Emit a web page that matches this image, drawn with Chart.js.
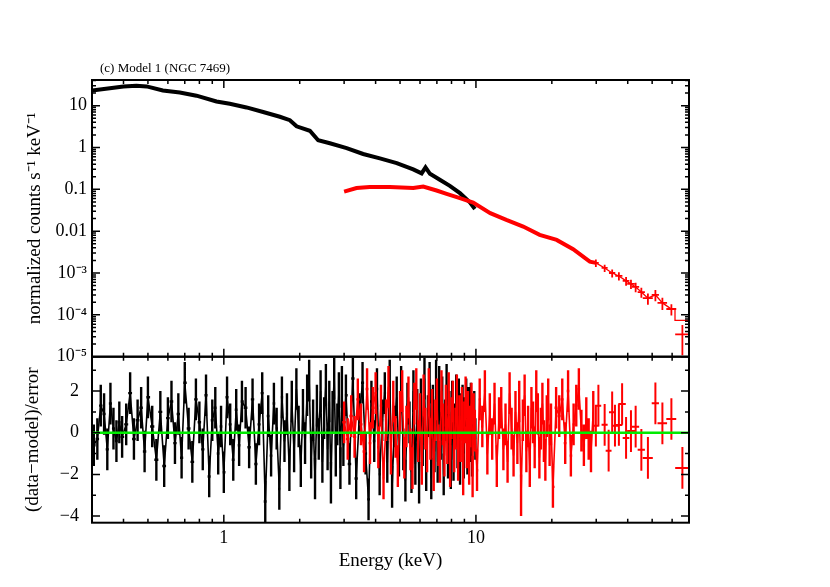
<!DOCTYPE html>
<html>
<head>
<meta charset="utf-8">
<script src="https://cdn.jsdelivr.net/npm/chart.js@4.4.0/dist/chart.umd.min.js"></script>
<style>
  html, body { margin: 0; padding: 0; background: #fff; }
  #wrap { position: relative; width: 830px; height: 587px; }
  canvas { position: absolute; left: 0; top: 0; }
</style>
</head>
<body>
<div id="wrap">
  <canvas id="spec" width="830" height="587"></canvas>
  <canvas id="resid" width="830" height="587"></canvas>
</div>
<script>
const SERIF = "'Liberation Serif','Times New Roman',serif";

// ---- top panel: normalized counts s^-1 keV^-1 vs energy (keV)
const specBlackE = [0.30,0.353,0.40,0.45,0.494,0.573,0.669,0.779,0.935,1.056,1.23,1.432,1.668,1.828,1.943,2.194,2.367,2.634,3.07,3.57,4.16,4.85,5.64,6.09,6.31,6.57,7.19,7.88,8.64,9.46,9.91];
const specBlackV = [23.1,26.1,28.5,29.9,28.8,23.1,20.7,17.3,12.6,11.1,9.06,7.03,5.42,4.48,3.21,2.51,1.49,1.26,0.97,0.70,0.55,0.424,0.30,0.24,0.336,0.235,0.169,0.121,0.081,0.049,0.034];

const specRedE = [3.0,3.36,3.79,4.55,5.64,6.18,6.98,7.65,8.64,9.75,11.4,13.2,15.4,17.9,20.9,24.3,28.3,29.9];
const specRedV = [0.088,0.107,0.113,0.113,0.107,0.117,0.0936,0.078,0.0616,0.048,0.027,0.0186,0.0129,0.00815,0.00619,0.00371,0.00187,0.00175];

// sparse high-energy red bins (centre, half width keV, value, relative error)
const hiRedE   = [29.9,32.4,34.7,36.9,39.4,41.2,43.0,45.3,48.1,51.5,54.9,59.6,65.9];
const hiRedW   = [0.8,0.9,1.0,1.2,1.2,1.4,1.4,1.5,2.2,1.7,2.4,2.7,4.2];
const hiRedV   = [1.75e-3,1.32e-3,1.0e-3,8.5e-4,6.5e-4,5.5e-4,4.65e-4,3.5e-4,2.5e-4,3.0e-4,1.93e-4,1.38e-4,3.4e-5];
const hiRedErr = [0.2,0.2,0.22,0.22,0.24,0.25,0.25,0.27,0.3,0.3,0.32,0.3,0.68];

// model curve over the sparse bins
const modelE = [29.9,32.4,34.7,36.9,39.4,41.2,43.0,45.3,48.1,51.5,54.9,59.6,61.6,61.6,70];
const modelV = [1.75e-3,1.32e-3,1.0e-3,8.5e-4,6.5e-4,5.5e-4,4.65e-4,3.5e-4,2.5e-4,3.0e-4,1.93e-4,1.38e-4,1.38e-4,7.4e-5,7.4e-5];

// ---- bottom panel: (data-model)/error
const resBlackE = [
  0.305,0.315,0.325,0.335,0.345,0.355,0.365,0.375,0.385,0.395,
  0.41,0.425,0.44,0.455,0.47,0.485,0.50,
  0.52,0.54,0.56,0.58,0.60,0.62,0.64,0.66,0.68,0.70,
  0.725,0.75,0.775,0.80,0.825,0.85,0.875,0.90,0.925,0.95,0.975,1.00,
  1.03,1.06,1.09,1.12,1.15,1.18,
  1.22,1.26,1.30,1.34,1.38,1.42,1.46,1.50,1.54,1.58,
  1.62,1.66,1.70,1.74,1.78,1.82,1.86,1.90,1.94,1.98,
  2.02,2.06,2.10,2.14,2.18,2.22,2.26,2.30,2.34,2.38,
  2.42,2.46,2.50,2.54,2.58,2.62,2.66,2.70,2.74,2.78,
  2.82,2.86,2.90,2.94,2.98,
  3.05,3.15,3.25,3.35,3.45,3.55,3.65,3.75,3.85,3.95,
  4.05,4.15,4.25,4.35,4.45,4.55,4.65,4.75,4.85,4.95,
  5.05,5.15,5.25,5.35,5.45,5.55,5.65,5.75,5.85,5.95,
  6.05,6.15,6.25,6.35,6.45,6.55,6.65,6.75,6.85,6.95,
  7.05,7.15,7.25,7.35,7.45,7.55,7.65,7.75,7.85,7.95,
  8.05,8.15,8.25,8.35,8.45,8.55,8.65,8.75,8.85,8.95,
  9.05,9.15,9.25,9.35,9.45,9.55,9.65,9.75,9.85,9.95
];
const resBlackR = [
  -0.6,-0.3,1.3,0.9,-0.8,1.4,0.2,-0.4,0.5,-0.2,
  0.4,1.9,-0.3,0.6,1.2,-0.9,1.7,
  0.3,-1.3,1.0,-1.6,0.7,1.5,-0.5,0.9,-1.2,2.4,
  0.2,-1.4,1.6,0.5,-0.8,1.8,-2.1,0.6,1.2,-1.0,0.3,-1.9,
  1.7,0.4,-1.3,1.1,-0.6,1.5,
  1.2,-0.7,1.6,-1.5,0.4,1.9,-3.3,0.8,-1.1,1.4,
  0.2,-2.7,1.7,-0.4,0.9,-1.8,1.5,-0.9,2.1,0.3,
  -1.6,1.1,-0.5,1.8,2.5,-1.2,0.6,-2.2,1.3,-0.3,
  2.0,-1.4,0.7,2.3,-0.8,1.5,-2.4,1.0,2.6,-1.1,
  0.4,1.9,-1.7,2.2,-0.6,
  1.8,-1.5,2.6,-2.2,0.9,2.4,-1.0,-3.2,1.5,-0.4,
  2.1,-2.0,0.6,1.9,-1.4,2.5,-2.6,0.3,1.7,-1.1,
  2.2,-0.8,-2.3,1.4,0.5,-1.9,2.0,-1.5,1.1,-2.4,
  1.6,-0.6,2.6,-1.8,0.8,2.4,-2.2,1.3,-0.9,2.5,
  -1.4,2.2,-0.3,1.7,-2.0,0.6,2.3,-1.2,1.0,-1.7,
  1.5,-1.3,0.4,1.8,-0.7,1.6,-1.5,0.9,1.3,-1.2,
  0.7,1.6,-1.0,1.2,-0.4,1.4,-1.1,0.5,1.0,-0.3
];

const resRedE = [
  3.0,3.1,3.2,3.3,3.4,3.5,3.6,3.7,3.8,3.9,
  4.0,4.1,4.2,4.3,4.4,4.5,4.6,4.7,4.8,4.9,
  5.0,5.1,5.2,5.3,5.4,5.5,5.6,5.7,5.8,5.9,
  6.0,6.1,6.2,6.3,6.4,6.5,6.6,6.7,6.8,6.9,
  7.0,7.1,7.2,7.3,7.4,7.5,7.6,7.7,7.8,7.9,
  8.0,8.1,8.2,8.3,8.4,8.5,8.6,8.7,8.8,8.9,
  9.0,9.1,9.2,9.3,9.4,9.5,9.6,9.7,9.8,9.9,
  10.1,10.35,10.6,10.85,11.1,11.35,11.6,11.85,12.1,12.35,
  12.6,12.85,13.1,13.35,13.6,13.85,14.1,14.35,14.6,14.85,
  15.1,15.35,15.6,15.85,16.1,16.35,16.6,16.85,17.1,17.35,
  17.6,17.85,18.1,18.35,18.6,18.85,19.1,19.35,19.6,19.85,
  20.2,20.8,21.4,22.0,22.6,23.2,23.8,24.4,25.0,25.6,26.2,26.8,27.4,28.0,28.6,29.2
];
const resRedR = [
  0.5,-0.3,0.8,-0.2,1.6,0.4,-0.9,2.1,-0.5,1.2,
  1.9,-0.7,1.3,-2.2,0.6,2.2,-1.0,1.5,-0.2,-1.6,
  1.0,2.0,-1.2,0.3,1.7,-0.8,-1.7,1.4,2.1,-0.4,
  0.9,-1.5,1.8,0.2,-0.9,2.1,-0.3,1.1,-1.8,0.6,
  1.6,-0.6,-1.4,2.0,0.4,-1.1,1.3,-0.5,1.9,-1.6,
  0.7,1.5,-0.9,0.2,1.8,-1.3,0.8,-0.4,1.2,-2.0,
  0.5,1.7,-0.7,1.0,-1.5,0.3,1.4,-2.1,0.9,0.1,
  -1.8,1.6,0.3,2.0,-1.0,0.9,-0.3,1.4,-1.6,0.7,
  1.2,-0.8,0.4,-1.4,1.9,0.2,-1.1,1.0,-0.5,1.5,
  -3.0,0.6,1.8,-0.9,0.3,-1.6,1.2,0.5,-0.7,2.0,
  0.9,-1.2,0.2,1.4,-0.4,-1.3,0.8,1.6,-0.6,0.4,
  -2.6,1.2,0.8,1.6,-0.5,2.0,-1.1,0.4,1.3,2.1,0.1,-0.6,0.7,-0.3,-0.9,1.0
];

const resRedSparseE = [29.9,30.6,32.4,33.6,34.7,35.6,36.9,38.0,39.4,41.2,43.0,45.3,48.1,51.5,54.9,59.6,65.9];
const resRedSparseW = [0.8,0.8,0.9,0.9,1.0,1.0,1.2,1.3,1.2,1.4,1.4,1.5,2.2,1.7,2.4,2.7,4.2];
const resRedSparseR = [0.34,1.3,0.38,-0.86,0.98,0.34,0.37,1.38,-0.25,0.08,0.29,-0.82,-1.21,1.41,0.45,0.66,-1.69];

const zeroLineE = [0.3, 70];
const zeroLineR = [0, 0];

// ---- axis ticks
const energyTickVals = [1, 10];
const energyTickLabels = ['1', '10'];
const specTickVals = [10, 1, 0.1, 0.01, 1e-3, 1e-4, 1e-5];
const specTickLabels = ['10', '1', '0.1', '0.01', '10⁻³', '10⁻⁴', '10⁻⁵'];
const resTickVals = [2, 0, -2, -4];
const resTickLabels = ['2', '0', '−2', '−4'];

const pts = (E, V) => E.map((e, i) => ({ x: e, y: V[i] }));

function residCrosses(E, R, W) {
  return E.map((e, i) => {
    const lo = W ? e - W[i] : (i > 0 ? (E[i - 1] + e) / 2 : e - (E[i + 1] - e) / 2);
    const hi = W ? e + W[i] : (i < E.length - 1 ? (E[i + 1] + e) / 2 : e + (e - E[i - 1]) / 2);
    return { x: e, y: R[i], xLo: lo, xHi: hi, yLo: R[i] - 1, yHi: R[i] + 1 };
  });
}

const hiCrosses = hiRedE.map((e, i) => ({
  x: e, y: hiRedV[i], xLo: e - hiRedW[i], xHi: e + hiRedW[i],
  yLo: hiRedV[i] * (1 - hiRedErr[i]), yHi: hiRedV[i] * (1 + hiRedErr[i])
}));

// error crosses, drawn right after their dataset
const crosses = {
  id: 'crosses',
  afterDatasetDraw(chart, args) {
    const ds = chart.data.datasets[args.index];
    if (!ds.crosses) return;
    const { ctx, chartArea: a, scales: { x, y } } = chart;
    ctx.save();
    ctx.beginPath();
    ctx.rect(a.left, a.top, a.right - a.left, a.bottom - a.top);
    ctx.clip();
    ctx.strokeStyle = ds.borderColor;
    ctx.lineWidth = ds.crossWidth;
    ctx.beginPath();
    ds.data.forEach(p => {
      const px = x.getPixelForValue(p.x), py = y.getPixelForValue(p.y);
      ctx.moveTo(px, y.getPixelForValue(p.yLo));
      ctx.lineTo(px, y.getPixelForValue(p.yHi));
      ctx.moveTo(x.getPixelForValue(p.xLo), py);
      ctx.lineTo(x.getPixelForValue(p.xHi), py);
    });
    ctx.stroke();
    ctx.restore();
  }
};

// box frame with inward ticks on all four sides
function makeFrame(cfg) {
  return {
    id: 'frame',
    afterDraw(chart) {
      const { ctx, chartArea: a, scales: { x, y } } = chart;
      ctx.save();
      ctx.strokeStyle = '#000';
      ctx.lineWidth = 1.5;
      ctx.beginPath();
      cfg.xTicks.forEach(([v, len]) => {
        const px = x.getPixelForValue(v);
        ctx.moveTo(px, a.top); ctx.lineTo(px, a.top + len);
        ctx.moveTo(px, a.bottom); ctx.lineTo(px, a.bottom - len);
      });
      cfg.yTicks.forEach(([v, len]) => {
        const py = y.getPixelForValue(v);
        ctx.moveTo(a.left, py); ctx.lineTo(a.left + len, py);
        ctx.moveTo(a.right, py); ctx.lineTo(a.right - len, py);
      });
      ctx.stroke();
      ctx.lineWidth = 2;
      ctx.strokeRect(a.left, a.top, a.right - a.left, a.bottom - a.top);
      if (cfg.title) {
        ctx.fillStyle = '#000';
        ctx.font = '13px ' + SERIF;
        ctx.textBaseline = 'middle';
        ctx.textAlign = 'left';
        ctx.fillText(cfg.title, a.left + 8, a.top - 11);
      }
      ctx.restore();
    }
  };
}

const xTicks = [];
[1, 10].forEach(v => xTicks.push([v, 8]));
[0.4, 0.5, 0.6, 0.7, 0.8, 0.9, 2, 3, 4, 5, 6, 7, 8, 9, 20, 30, 40, 50, 60].forEach(v => xTicks.push([v, 4]));

const specYTicks = [];
for (let d = -5; d <= 1; d++) {
  specYTicks.push([Math.pow(10, d), 8]);
  for (let k = 2; k <= 9; k++) {
    const v = k * Math.pow(10, d);
    if (v < 41) specYTicks.push([v, 4]);
  }
}
const resYTicks = [[2, 8], [0, 8], [-2, 8], [-4, 8], [3, 4], [1, 4], [-1, 4], [-3, 4]];

const hiddenGrid = { display: false, drawTicks: false, tickLength: 0 };

new Chart(document.getElementById('spec'), {
  type: 'scatter',
  data: {
    datasets: [
      { data: pts(specRedE, specRedV), showLine: true, borderColor: '#ff0000', borderWidth: 4, pointRadius: 0, order: 0 },
      { data: pts(modelE, modelV), showLine: true, borderColor: '#ff0000', borderWidth: 1.3, pointRadius: 0, order: 0 },
      { data: hiCrosses, crosses: true, crossWidth: 1.8, borderColor: '#ff0000', pointRadius: 0, order: 0 },
      { data: pts(specBlackE, specBlackV), showLine: true, borderColor: '#000000', borderWidth: 4, pointRadius: 0, order: 1 }
    ]
  },
  options: {
    responsive: false,
    animation: false,
    devicePixelRatio: 1,
    layout: { padding: { left: 0, right: 141, top: 80, bottom: 230.3 } },
    plugins: { legend: { display: false }, tooltip: { enabled: false } },
    scales: {
      x: { type: 'logarithmic', min: 0.3, max: 70, display: false },
      y: {
        type: 'logarithmic', min: 1e-5, max: 41,
        afterFit: s => { s.width = 92; },
        afterBuildTicks: s => { s.ticks = specTickVals.map(v => ({ value: v })); },
        grid: hiddenGrid,
        border: { display: false },
        ticks: { color: '#000', padding: 5, font: { family: SERIF, size: 18 }, callback: (v, i) => specTickLabels[i] },
        title: { display: true, text: 'normalized counts s⁻¹ keV⁻¹', color: '#000', font: { family: SERIF, size: 19 }, padding: { top: 24, bottom: 0 } }
      }
    }
  },
  plugins: [crosses, makeFrame({ xTicks, yTicks: specYTicks, title: '(c) Model 1 (NGC 7469)' })]
});

new Chart(document.getElementById('resid'), {
  type: 'scatter',
  data: {
    datasets: [
      { data: pts(zeroLineE, zeroLineR), showLine: true, borderColor: 'rgb(0,235,0)', borderWidth: 2.5, pointRadius: 0, order: 0 },
      { data: residCrosses(resRedE, resRedR), showLine: true, borderWidth: 1.6, crosses: true, crossWidth: 2.4, borderColor: '#ff0000', pointRadius: 0, order: 1 },
      { data: residCrosses(resRedSparseE, resRedSparseR, resRedSparseW), crosses: true, crossWidth: 2, borderColor: '#ff0000', pointRadius: 0, order: 1 },
      { data: residCrosses(resBlackE, resBlackR), showLine: true, borderWidth: 1.6, crosses: true, crossWidth: 2.4, borderColor: '#000000', pointRadius: 0, order: 2 }
    ]
  },
  options: {
    responsive: false,
    animation: false,
    devicePixelRatio: 1,
    layout: { padding: { left: 0, right: 141, top: 356.7, bottom: 0 } },
    plugins: { legend: { display: false }, tooltip: { enabled: false } },
    scales: {
      x: {
        type: 'logarithmic', min: 0.3, max: 70,
        afterFit: s => { s.height = 64.3; },
        afterBuildTicks: s => { s.ticks = energyTickVals.map(v => ({ value: v })); },
        grid: hiddenGrid,
        border: { display: false },
        ticks: { color: '#000', padding: 5, maxRotation: 0, autoSkip: false, font: { family: SERIF, size: 18 }, callback: (v, i) => energyTickLabels[i] },
        title: { display: true, text: 'Energy (keV)', color: '#000', font: { family: SERIF, size: 19 }, padding: { top: 0, bottom: 15 } }
      },
      y: {
        type: 'linear', min: -4.32, max: 3.65,
        afterFit: s => { s.width = 92; },
        afterBuildTicks: s => { s.ticks = resTickVals.map(v => ({ value: v })); },
        grid: hiddenGrid,
        border: { display: false },
        ticks: { color: '#000', padding: 13, font: { family: SERIF, size: 18 }, callback: (v, i) => resTickLabels[i] },
        title: { display: true, text: '(data−model)/error', color: '#000', font: { family: SERIF, size: 19 }, padding: { top: 22, bottom: 0 } }
      }
    }
  },
  plugins: [crosses, makeFrame({ xTicks, yTicks: resYTicks })]
});
</script>
</body>
</html>
